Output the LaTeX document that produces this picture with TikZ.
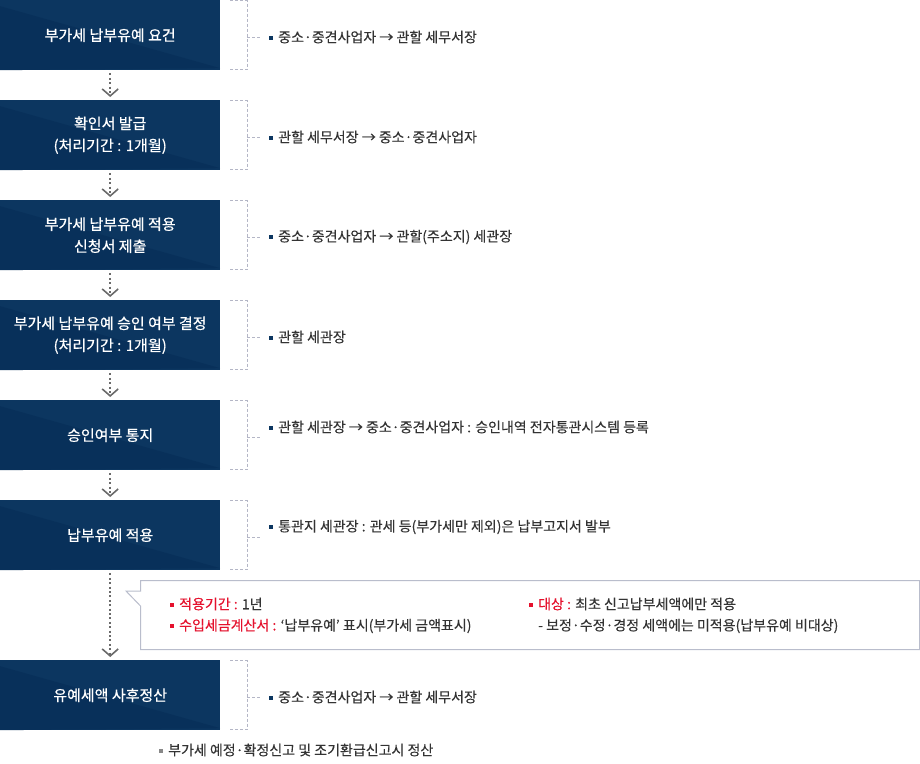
\documentclass[tikz,border=0pt]{standalone}
\usepackage{fontspec}
\setmainfont{Noto Sans CJK KR}
\newfontfamily\boxfont[FakeBold=0.6]{Noto Sans CJK KR}
\newfontfamily\descfont[FakeBold=0.25]{Noto Sans CJK KR}
\usetikzlibrary{arrows.meta}
\definecolor{navy}{HTML}{0C3660}
\definecolor{navydark}{HTML}{08305A}
\definecolor{txt}{HTML}{333333}
\definecolor{brk}{HTML}{B4B6C6}
\definecolor{arr}{HTML}{6A6A6A}
\definecolor{red1}{HTML}{E5112D}
\definecolor{cbord}{HTML}{B9BDCC}
\newcommand{\sqb}[1]{\raisebox{2.5pt}{\textcolor{#1}{\rule{4pt}{4pt}}}}
\tikzset{
  stepbox/.style={fill=navy, text=white, minimum width=220pt, minimum height=70pt,
    inner sep=0pt, align=center, font=\boxfont\fontsize{15}{22}\selectfont, anchor=north west,
    path picture={\fill[navydark] ([yshift=-6pt]path picture bounding box.north west) -- (path picture bounding box.south west) -- ([yshift=2pt]path picture bounding box.south east) -- cycle;}},
  flow/.style={draw=arr, line width=2pt, dash pattern=on 2pt off 2.4pt,
    -{Straight Barb[length=7pt,width=16pt,line width=1.6pt,line cap=butt]}, shorten <=3pt, shorten >=3pt},
  bracket/.style={draw=brk, line width=1pt, dash pattern=on 3pt off 2pt},
  desc/.style={anchor=west, inner sep=0pt, text=txt, font=\descfont\fontsize{14}{18}\selectfont},
}
\begin{document}
\begin{tikzpicture}[x=1pt,y=-1pt]
\useasboundingbox (0,0) rectangle (920,763);
% boxes
\node[stepbox] (b1) at (0,0) {부가세 납부유예 요건};
\node[stepbox] (b2) at (0,100) {확인서 발급\\(처리기간 : 1개월)};
\node[stepbox] (b3) at (0,200) {부가세 납부유예 적용\\신청서 제출};
\node[stepbox] (b4) at (0,300) {부가세 납부유예 승인 여부 결정\\(처리기간 : 1개월)};
\node[stepbox] (b5) at (0,400) {승인여부 통지};
\node[stepbox] (b6) at (0,500) {납부유예 적용};
\node[stepbox] (b7) at (0,660) {유예세액 사후정산};
% connectors
\draw[flow] (b1.south) -- (b2.north);
\draw[flow] (b2.south) -- (b3.north);
\draw[flow] (b3.south) -- (b4.north);
\draw[flow] (b4.south) -- (b5.north);
\draw[flow] (b5.south) -- (b6.north);
\draw[flow] (b6.south) -- (b7.north);
% brackets
\foreach \t in {0,100,200,300,400,500,660}{
  \draw[bracket] (230,\t+0.5) -- (247,\t+0.5) -- (247,\t+69.5) -- (230,\t+69.5);
  \draw[bracket] (247,\t+37) -- (261,\t+37);
}
% descriptions
\node[desc] (d1) at (269,37) {\sqb{navy}\hspace{5pt}중소·중견사업자 → 관할 세무서장};
\node[desc] (d2) at (269,137) {\sqb{navy}\hspace{5pt}관할 세무서장 → 중소·중견사업자};
\node[desc] (d3) at (269,237) {\sqb{navy}\hspace{5pt}중소·중견사업자 → 관할(주소지) 세관장};
\node[desc] (d4) at (269,337) {\sqb{navy}\hspace{5pt}관할 세관장};
\node[desc] (d5) at (269,427) {\sqb{navy}\hspace{5pt}관할 세관장 → 중소·중견사업자 : 승인내역 전자통관시스템 등록};
\node[desc] (d6) at (269,527) {\sqb{navy}\hspace{5pt}통관지 세관장 : 관세 등(부가세만 제외)은 납부고지서 발부};
\node[desc] (d7) at (269,697) {\sqb{navy}\hspace{5pt}중소·중견사업자 → 관할 세무서장};
\node[desc] (d8) at (159,750) {\sqb{arr!80}\hspace{5pt}부가세 예정·확정신고 및 조기환급신고시 정산};
% callout
\draw[draw=cbord, line width=1pt, fill=white] (140.5,580.5) -- (919.5,580.5) -- (919.5,649.5) -- (140.5,649.5) -- (140.5,606) -- (126,591) -- (140.5,591) -- cycle;
\node[desc] (c1) at (170,604) {\sqb{red1}\hspace{5pt}\textcolor{red1}{적용기간 :} 1년};
\node[desc] (c2) at (170,626) {\sqb{red1}\hspace{5pt}\textcolor{red1}{수입세금계산서 :} ‘납부유예’ 표시(부가세 금액표시)};
\node[desc] (c3) at (529,604) {\sqb{red1}\hspace{5pt}\textcolor{red1}{대상 :} 최초 신고납부세액에만 적용};
\node[desc] (c4) at (538,626) {- 보정·수정·경정 세액에는 미적용(납부유예 비대상)};
\end{tikzpicture}
\end{document}
